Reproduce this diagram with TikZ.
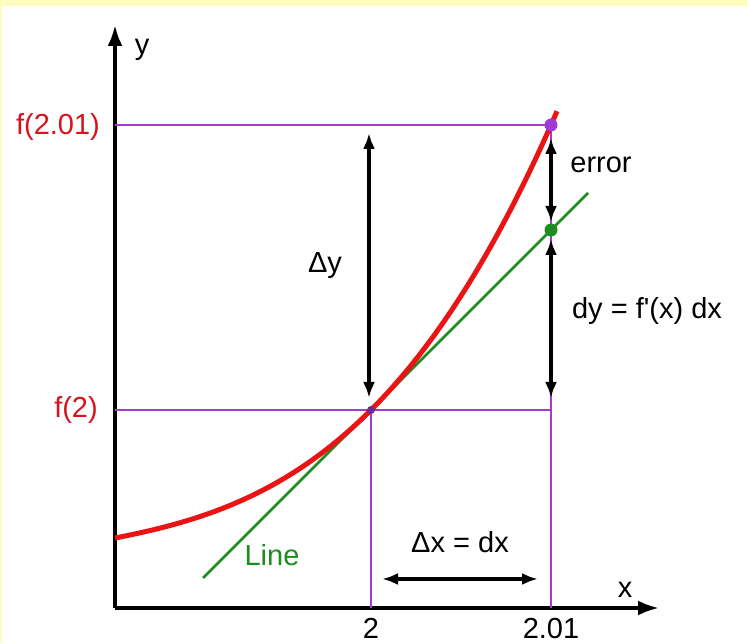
\documentclass[tikz,border=0pt]{standalone}
\usepackage{fontspec}
\setmainfont{Liberation Sans}
\usepackage{tikz}
\usetikzlibrary{arrows.meta,positioning,calc}

\definecolor{guidepurple}{RGB}{160,60,210}
\definecolor{curvered}{RGB}{235,20,20}
\definecolor{linegreen}{RGB}{30,140,30}
\definecolor{labelred}{RGB}{215,20,30}
\definecolor{paleyellow}{RGB}{255,252,190}

\begin{document}
\begin{tikzpicture}[
    x=1pt, y=1pt,
    axis/.style={line width=3.5pt, -{Latex[length=21pt,width=15pt]}},
    guide/.style={guidepurple, line width=1.5pt},
    curve/.style={curvered, line width=5pt},
    tangent/.style={linegreen, line width=2.5pt},
    dimarrow/.style={line width=3.5pt, {Latex[length=16pt,width=12pt]}-{Latex[length=16pt,width=12pt]}},
    lbl/.style={font=\fontsize{29}{33}\selectfont, inner sep=0pt},
    dot/.style={circle, inner sep=0pt, minimum size=#1}
]

% Frame
\fill[paleyellow] (0,0) rectangle (747,643);
\fill[white] (2,0) rectangle (747,637);
\useasboundingbox (0,0) rectangle (747,643);

% Axes
\coordinate (O) at (115,35);
\coordinate (ytip) at (115,618);
\coordinate (xtip) at (659,35);
\draw[axis] (O) -- (ytip);
\draw[axis] (O) -- (xtip);

% Guide points
\coordinate (a) at (371,233);
\coordinate (b) at (551,518);
\coordinate (bx) at (551,35);
\coordinate (ax) at (371,35);
\coordinate (ay) at (115,233);
\coordinate (by) at (115,518);
\coordinate (c) at (551,233);

% Purple guide lines
\draw[guide] (by) -- (b);
\draw[guide] (ay) -- (c);
\draw[guide] (a) -- (ax);
\draw[guide] (b) -- (bx);

% Tangent line
\coordinate (tstart) at (203,65);
\coordinate (tend) at (588,450);
\draw[tangent] (tstart) -- (tend);

% Curve
\draw[curve] plot[domain=115:557, samples=80, smooth]
    (\x, {105 + 49.6*((\x-115)/256) + 28.8*((\x-115)/256)^2 + 49.6*((\x-115)/256)^3});

% Dots
\node[dot=8pt, fill=guidepurple!70!black] (pa) at (a) {};
\node[dot=13pt, fill=guidepurple] (pb) at (b) {};
\node[dot=13pt, fill=linegreen] (pg) at (551,413) {};

% Dimension arrows
\coordinate (dytop) at (369,510);
\coordinate (dybot) at (369,245);
\draw[dimarrow] (dytop) -- (dybot);
\coordinate (errtop) at (551,505);
\coordinate (errbot) at (551,421);
\draw[dimarrow] (errtop) -- (errbot);
\coordinate (dtop) at (551,404);
\coordinate (dbot) at (551,245);
\draw[dimarrow] (dtop) -- (dbot);
\coordinate (dxl) at (382,64);
\coordinate (dxr) at (538,64);
\draw[dimarrow] (dxl) -- (dxr);

% Labels
\node[lbl] (ylab) at (142,593) {y};
\node[lbl] (xlab) at (625,53) {x};
\node[lbl, text=labelred] (f201) at (58,516) {f(2.01)};
\node[lbl, text=labelred] (f2) at (76,233) {f(2)};
\node[lbl] (dylab) at (325,377) {Δy};
\node[lbl] (errlab) at (601,478) {error};
\node[lbl] (dflab) at (647,332) {dy = f\textquotesingle(x) dx};
\node[lbl, text=linegreen] (linelab) at (272,88) {Line};
\node[lbl] (dxlab) at (460,101) {Δx = dx};
\node[lbl, anchor=base] (two) at (371,5) {2};
\node[lbl, anchor=base] (twoo) at (551,5) {2.01};

\end{tikzpicture}
\end{document}
